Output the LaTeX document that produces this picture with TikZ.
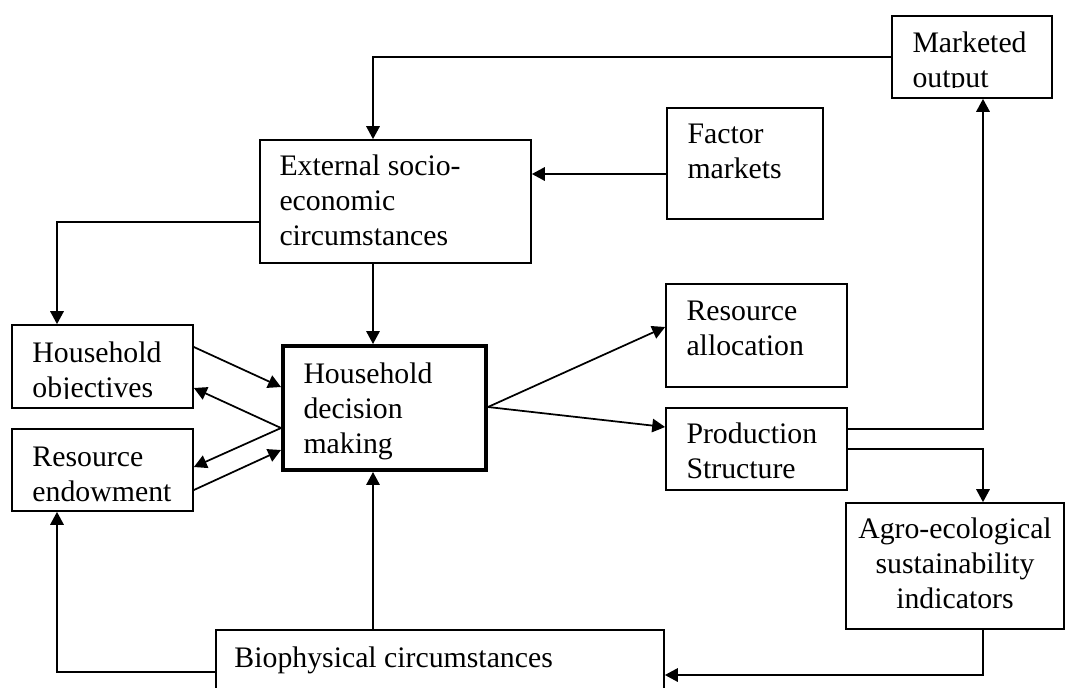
\documentclass[tikz,border=0pt]{standalone}
\usepackage{fontspec}
\setmainfont{Liberation Serif}
\usetikzlibrary{arrows.meta,fit}
\begin{document}
\begin{tikzpicture}[x=0.403pt,y=-0.403pt,
  box/.style={draw, line width=0.7pt, rectangle, inner sep=0pt},
  thickbox/.style={box, line width=1.6pt},
  lbl/.style={anchor=north west, inner sep=0pt, align=left, font=\fontsize{12}{14.1}\selectfont},
  arr/.style={line width=0.7pt, -{Triangle[length=5.2pt,width=5.4pt]}}]
\clip (0,0) rectangle (1084,687);
\fill[white] (0,0) rectangle (1084,687);

% boxes
\node[box, fit={(892,16) (1052,98)}] (mkt) {};
\begin{scope}
  \clip (892,16) rectangle (1052,87);
  \node[lbl] (mktT) at (912,27.5) {\strut Marketed\\output};
\end{scope}
\node[box, fit={(667,108) (823,219)}] (fac) {};
\node[lbl] (facT) at (687,118.5) {\strut Factor\\markets};
\node[box, fit={(260,140) (531,263)}] (ext) {};
\node[lbl] (extT) at (279,150.5) {\strut External socio-\\economic\\circumstances};
\node[box, fit={(12,325) (193,408)}] (obj) {};
\begin{scope}
  \clip (12,325) rectangle (193,398);
  \node[lbl] (objT) at (32,337.5) {\strut Household\\objectives};
\end{scope}
\node[box, fit={(12,429) (193,511)}] (endw) {};
\node[lbl] (endwT) at (32,441.5) {\strut Resource\\endowment};
\node[thickbox, fit={(283,346) (486,470)}] (dec) {};
\node[lbl] (decT) at (303,358.5) {\strut Household\\decision\\making};
\node[box, fit={(666,284) (847,387)}] (ral) {};
\node[lbl] (ralT) at (686,295.5) {\strut Resource\\allocation};
\node[box, fit={(666,408) (847,490)}] (prod) {};
\node[lbl] (prodT) at (686,418.5) {\strut Production\\Structure};
\node[box, fit={(846,503) (1064,629)}] (agro) {};
\node[lbl, anchor=north, align=center] (agroT) at (955,513.5) {\strut Agro-ecological\\sustainability\\indicators};
\node[box, fit={(216,630) (664,720)}] (bio) {};
\node[lbl] (bioT) at (234,642.5) {\strut Biophysical circumstances};

% connectors
\draw[arr] (mkt.west) -| (ext.north -| 373,0);
\draw[arr] (fac.west |- 0,174) -- (ext.east |- 0,174);
\draw[arr] (ext.west |- 0,222) -| (obj.north -| 57,0);
\draw[arr] (ext.south -| 373,0) -- (dec.north -| 373,0);
\draw[arr] (obj.east |- 0,347) -- (dec.west |- 0,387);
\draw[arr] (dec.west |- 0,428) -- (obj.east |- 0,388);
\draw[arr] (dec.west |- 0,428) -- (endw.east |- 0,467);
\draw[arr] (endw.east |- 0,490) -- (dec.west |- 0,450);
\draw[arr] (dec.east |- 0,407) -- (ral.west |- 0,327);
\draw[arr] (dec.east |- 0,407) -- (prod.west |- 0,427);
\draw[arr] (prod.east |- 0,429) -| (mkt.south -| 983,0);
\draw[arr] (prod.east |- 0,449) -| (agro.north -| 983,0);
\draw[arr] (agro.south -| 983,0) |- (bio.east |- 0,675);
\draw[arr] (bio.west |- 0,672) -| (endw.south -| 57,0);
\draw[arr] (bio.north -| 373,0) -- (dec.south -| 373,0);
\end{tikzpicture}
\end{document}
